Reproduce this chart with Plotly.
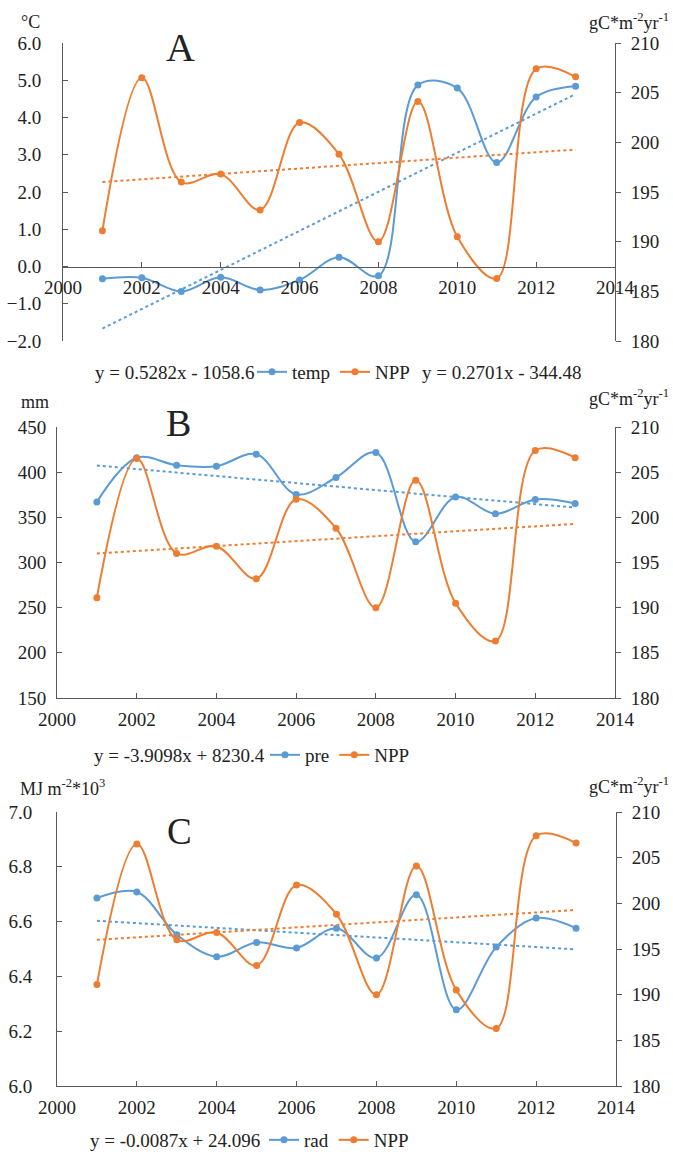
import numpy as np
import plotly.graph_objects as go

years = [2001, 2002, 2003, 2004, 2005, 2006, 2007, 2008, 2009, 2010, 2011, 2012, 2013]
npp = [191.1, 206.5, 196.0, 196.8, 193.2, 202.0, 198.8, 190.0, 204.1, 190.5, 186.3, 207.4, 206.6]
temp = [-0.33, -0.30, -0.67, -0.29, -0.63, -0.36, 0.25, -0.25, 4.87, 4.79, 2.79, 4.55, 4.84]
pre = [367.1, 416.0, 407.7, 406.6, 419.8, 375.3, 394.1, 421.7, 322.9, 372.6, 353.9, 369.8, 365.4]
rad = [6.686, 6.708, 6.552, 6.472, 6.524, 6.504, 6.576, 6.467, 6.698, 6.278, 6.507, 6.613, 6.576]

eq_temp = "y = 0.5282x - 1058.6"
eq_npp = "y = 0.2701x - 344.48"
eq_pre = "y = -3.9098x + 8230.4"
eq_rad = "y = -0.0087x + 24.096"

BLUE = "#5B9BD5"
ORANGE = "#ED7D31"
AX = "#595959"
FONT = "Liberation Serif"
W, H = 673, 1152


def fx(p):
    return p / W


def fy(p):
    return 1 - p / H


def trend(y):
    k, b = np.polyfit(years, y, 1)
    xs = [years[0], years[-1]]
    return xs, [k * x + b for x in xs]


fig = go.Figure()

panels = [
    dict(y=temp, name="temp", rng=[-2, 6], dt=1, fmt=".1f", box=(63, 615, 43, 341), leg="legend", so=17),
    dict(y=pre, name="pre", rng=[150, 450], dt=50, fmt="d", box=(57, 615, 427, 698), leg="legend2", so=6),
    dict(y=rad, name="rad", rng=[6.0, 7.0], dt=0.2, fmt=".1f", box=(57, 616, 812, 1086), leg="legend3", so=20),
]

TF = dict(family=FONT, size=19, color="#222")
layout = {}
for i, p in enumerate(panels):
    xa = "x" if i == 0 else f"x{i + 1}"
    yl = "y" if i == 0 else f"y{2 * i + 1}"
    yr = f"y{2 * i + 2}"
    xk = "xaxis" if i == 0 else f"xaxis{i + 1}"
    ylk = "yaxis" if i == 0 else f"yaxis{2 * i + 1}"
    yrk = f"yaxis{2 * i + 2}"
    x0, x1, y0, y1 = p["box"]
    ydom = [fy(y1), fy(y0)]

    tx, ty = trend(p["y"])
    fig.add_trace(go.Scatter(x=tx, y=ty, mode="lines", line=dict(color=BLUE, width=2, dash="dot"),
                             xaxis=xa, yaxis=yl, showlegend=False, hoverinfo="skip"))
    tx2, ty2 = trend(npp)
    fig.add_trace(go.Scatter(x=tx2, y=ty2, mode="lines", line=dict(color=ORANGE, width=2, dash="dot"),
                             xaxis=xa, yaxis=yr, showlegend=False, hoverinfo="skip"))
    fig.add_trace(go.Scatter(x=years, y=p["y"], name=p["name"], mode="lines+markers",
                             line=dict(color=BLUE, width=2, shape="spline", smoothing=1.0),
                             marker=dict(color=BLUE, size=7), xaxis=xa, yaxis=yl, legend=p["leg"]))
    fig.add_trace(go.Scatter(x=years, y=npp, name="NPP", mode="lines+markers",
                             line=dict(color=ORANGE, width=2, shape="spline", smoothing=1.0),
                             marker=dict(color=ORANGE, size=7), xaxis=xa, yaxis=yr, legend=p["leg"]))

    common = dict(showline=True, linecolor=AX, linewidth=1, tickcolor=AX, ticklen=5, tickwidth=1,
                  showgrid=False, zeroline=False, tickfont=TF, automargin=False)
    xaxis = dict(common, domain=[fx(x0), fx(x1)], range=[2000, 2014], dtick=2, tick0=2000,
                 ticks="inside", ticklabelstandoff=4)
    if i == 0:
        r0, r1 = p["rng"]
        pos = ydom[0] + (0 - r0) / (r1 - r0) * (ydom[1] - ydom[0])
        xaxis.update(anchor="free", position=pos)
    else:
        xaxis.update(anchor=yl)
    layout[xk] = xaxis
    layout[ylk] = dict(common, domain=ydom, range=p["rng"], dtick=p["dt"], tickformat=p["fmt"], anchor=xa,
                       ticks="inside", ticklabelstandoff=p["so"])
    layout[yrk] = dict(common, domain=ydom, range=[180, 210], dtick=5, anchor=xa, overlaying=yl,
                       side="right", ticks="outside", ticklabelstandoff=6)

legend_common = dict(orientation="h", xanchor="left", yanchor="middle", bgcolor="rgba(0,0,0,0)",
                     font=TF, itemwidth=30, borderwidth=0, tracegroupgap=0)
layout["legend"] = dict(legend_common, x=fx(252), y=fy(372))
layout["legend2"] = dict(legend_common, x=fx(265), y=fy(755))
layout["legend3"] = dict(legend_common, x=fx(264), y=fy(1140))

ann = []


def txt(t, x, y, size=19, xanchor="center"):
    ann.append(dict(text=t, x=fx(x), y=fy(y), xref="paper", yref="paper", showarrow=False,
                    xanchor=xanchor, yanchor="middle", font=dict(family=FONT, size=size, color="#222")))


txt("A", 180, 48, size=40)
txt("B", 178, 423, size=38)
txt("C", 179, 831, size=37)
txt("°C", 30, 22, size=18)
txt("mm", 35, 402, size=18)
txt("MJ m<sup>-2</sup>*10<sup>3</sup>", 18, 787, size=18, xanchor="left")
unit_r = "gC*m<sup>-2</sup>yr<sup>-1</sup>"
txt(unit_r, 671, 22, size=18, xanchor="right")
txt(unit_r, 671, 397, size=18, xanchor="right")
txt(unit_r, 671, 785, size=18, xanchor="right")
txt(eq_temp, 257, 372, xanchor="right")
txt(eq_npp, 420, 372, xanchor="left")
txt(eq_pre, 267, 755, xanchor="right")
txt(eq_rad, 262, 1140, xanchor="right")

fig.update_layout(template="none", width=W, height=H, margin=dict(l=0, r=0, t=0, b=0, autoexpand=False),
                  paper_bgcolor="white", plot_bgcolor="rgba(0,0,0,0)", annotations=ann,
                  font=dict(family=FONT, color="#222"), **layout)

fig.write_html("out.html")
